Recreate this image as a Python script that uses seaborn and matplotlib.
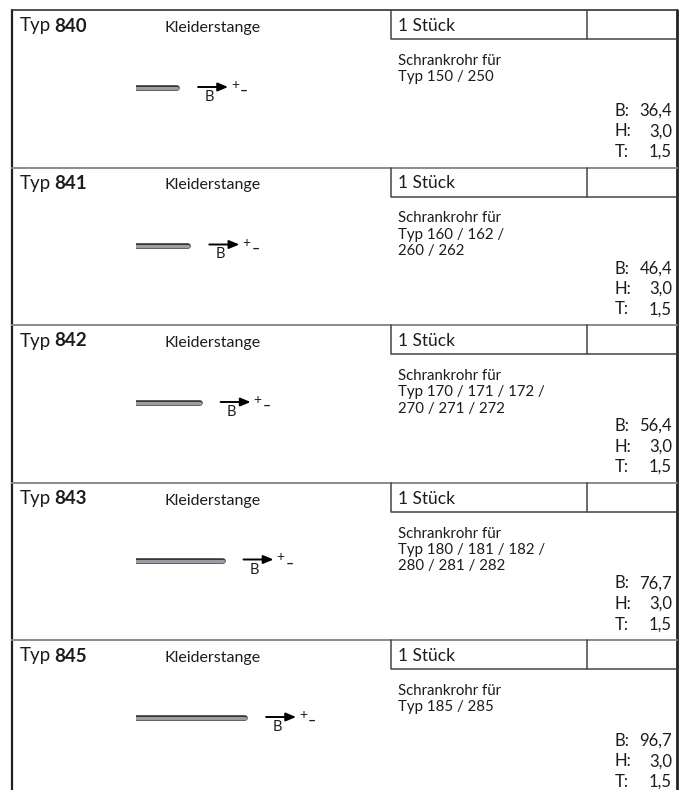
import matplotlib
matplotlib.use('Agg')
import matplotlib.pyplot as plt
import matplotlib.transforms as mtransforms
import seaborn as sns
import pandas as pd

# Tabellendaten
typ_nr = ['840', '841', '842', '843', '845']
bezeichnung = ['Kleiderstange', 'Kleiderstange', 'Kleiderstange', 'Kleiderstange', 'Kleiderstange']
menge = ['1 Stück', '1 Stück', '1 Stück', '1 Stück', '1 Stück']
schrankrohr = ['Typ 150 / 250',
               'Typ 160 / 162 /\n260 / 262',
               'Typ 170 / 171 / 172 /\n270 / 271 / 272',
               'Typ 180 / 181 / 182 /\n280 / 281 / 282',
               'Typ 185 / 285']
breite = [36.4, 46.4, 56.4, 76.7, 96.7]
hoehe = [3.0, 3.0, 3.0, 3.0, 3.0]
tiefe = [1.5, 1.5, 1.5, 1.5, 1.5]
masse_labels = ['B:', 'H:', 'T:']

sns.set_style('white')
plt.rcParams['font.family'] = ['Lato', 'DejaVu Sans']

W, H = 685, 790
ROW_TOP = 10
ROW_H = 157.5
LEFT, RIGHT = 12, 677
TXT = '#1c1c1c'


def fmt(v):
    return f'{v:.1f}'.replace('.', ',')


fig = plt.figure(figsize=(6.85, 7.9), dpi=100)
ax = fig.add_axes([0, 0, 1, 1])
ax.set_xlim(0, W)
ax.set_ylim(H, 0)
ax.axis('off')

# Rahmen
ax.plot([LEFT, LEFT], [ROW_TOP, H], color='#222222', lw=1.6)
ax.plot([RIGHT, RIGHT], [ROW_TOP, H], color='#222222', lw=2.0)
ax.plot([LEFT, RIGHT], [ROW_TOP, ROW_TOP], color='#333333', lw=1.2)

for i, nr in enumerate(typ_nr):
    top = ROW_TOP + i * ROW_H
    if i > 0:
        ax.plot([LEFT, RIGHT], [top, top], color='#8a8a8a', lw=1.4)
    ax.text(20, top + 16, 'Typ', fontsize=13.5, va='center', color=TXT)
    ax.text(54, top + 16, nr, fontsize=13.5, weight='bold', va='center', color=TXT)
    ax.text(165, top + 18, bezeichnung[i], fontsize=11.5, va='center', color=TXT)
    # Mengenkasten
    ax.plot([391, 391, RIGHT], [top, top + 29, top + 29], color='#444444', lw=1.1)
    ax.plot([587, 587], [top, top + 29], color='#444444', lw=1.1)
    ax.text(398, top + 16, menge[i], fontsize=12.5, va='center', color=TXT)
    ax.text(398, top + 44, 'Schrankrohr für\n' + schrankrohr[i], fontsize=10.8,
            va='top', linespacing=1.22, color=TXT)
    werte = [breite[i], hoehe[i], tiefe[i]]
    for j, (lab, val) in enumerate(zip(masse_labels, werte)):
        y = top + 101 + j * 20.5
        ax.text(615, y, lab, fontsize=12, va='center', color=TXT)
        ax.text(672, y, fmt(val), fontsize=12, va='center', ha='right', color=TXT)

# Stangen: x in cm, 1 cm ~ 1.128 px
rod_ax = fig.add_axes([136 / W, 0, 150 * 1.128 / W, 1])
rod_ax.patch.set_visible(False)

rod_y = [ROW_TOP + i * ROW_H + 78 for i in range(len(typ_nr))]
rods = pd.DataFrame({
    'typ': [t for t in typ_nr for _ in range(2)],
    'x': [v for b in breite for v in (0, b)],
    'y': [v for y in rod_y for v in (y, y)],
})
sns.lineplot(data=rods, x='x', y='y', units='typ', estimator=None, sort=False,
             color='#2e2e2e', lw=4.0, solid_capstyle='round', legend=False, ax=rod_ax)
sns.lineplot(data=rods, x='x', y='y', units='typ', estimator=None, sort=False,
             color='#9a9ea3', lw=2.3, solid_capstyle='round', legend=False, ax=rod_ax)
rod_ax.set_xlim(0, 150)
rod_ax.set_ylim(H, 0)
rod_ax.axis('off')


def shift(dx, dy):
    return mtransforms.offset_copy(rod_ax.transData, fig=fig, x=dx, y=dy, units='dots')


for b, y in zip(breite, rod_y):
    rod_ax.annotate('', xy=(b, y), xycoords=shift(51, 1), xytext=(b, y), textcoords=shift(21, 1),
                    arrowprops=dict(arrowstyle='-|>,head_length=0.6,head_width=0.25', color='black',
                                    lw=1.4, shrinkA=0, shrinkB=0, mutation_scale=10))
    rod_ax.text(b, y, 'B', transform=shift(32, -9), fontsize=10.5, ha='center', va='center', color=TXT)
    rod_ax.text(b, y, '+', transform=shift(58, 3), fontsize=10, ha='center', va='center', color=TXT)
    rod_ax.text(b, y, '–', transform=shift(67, -3), fontsize=10, weight='bold', ha='center',
                va='center', color=TXT)

fig.savefig('out.png', dpi=100)
